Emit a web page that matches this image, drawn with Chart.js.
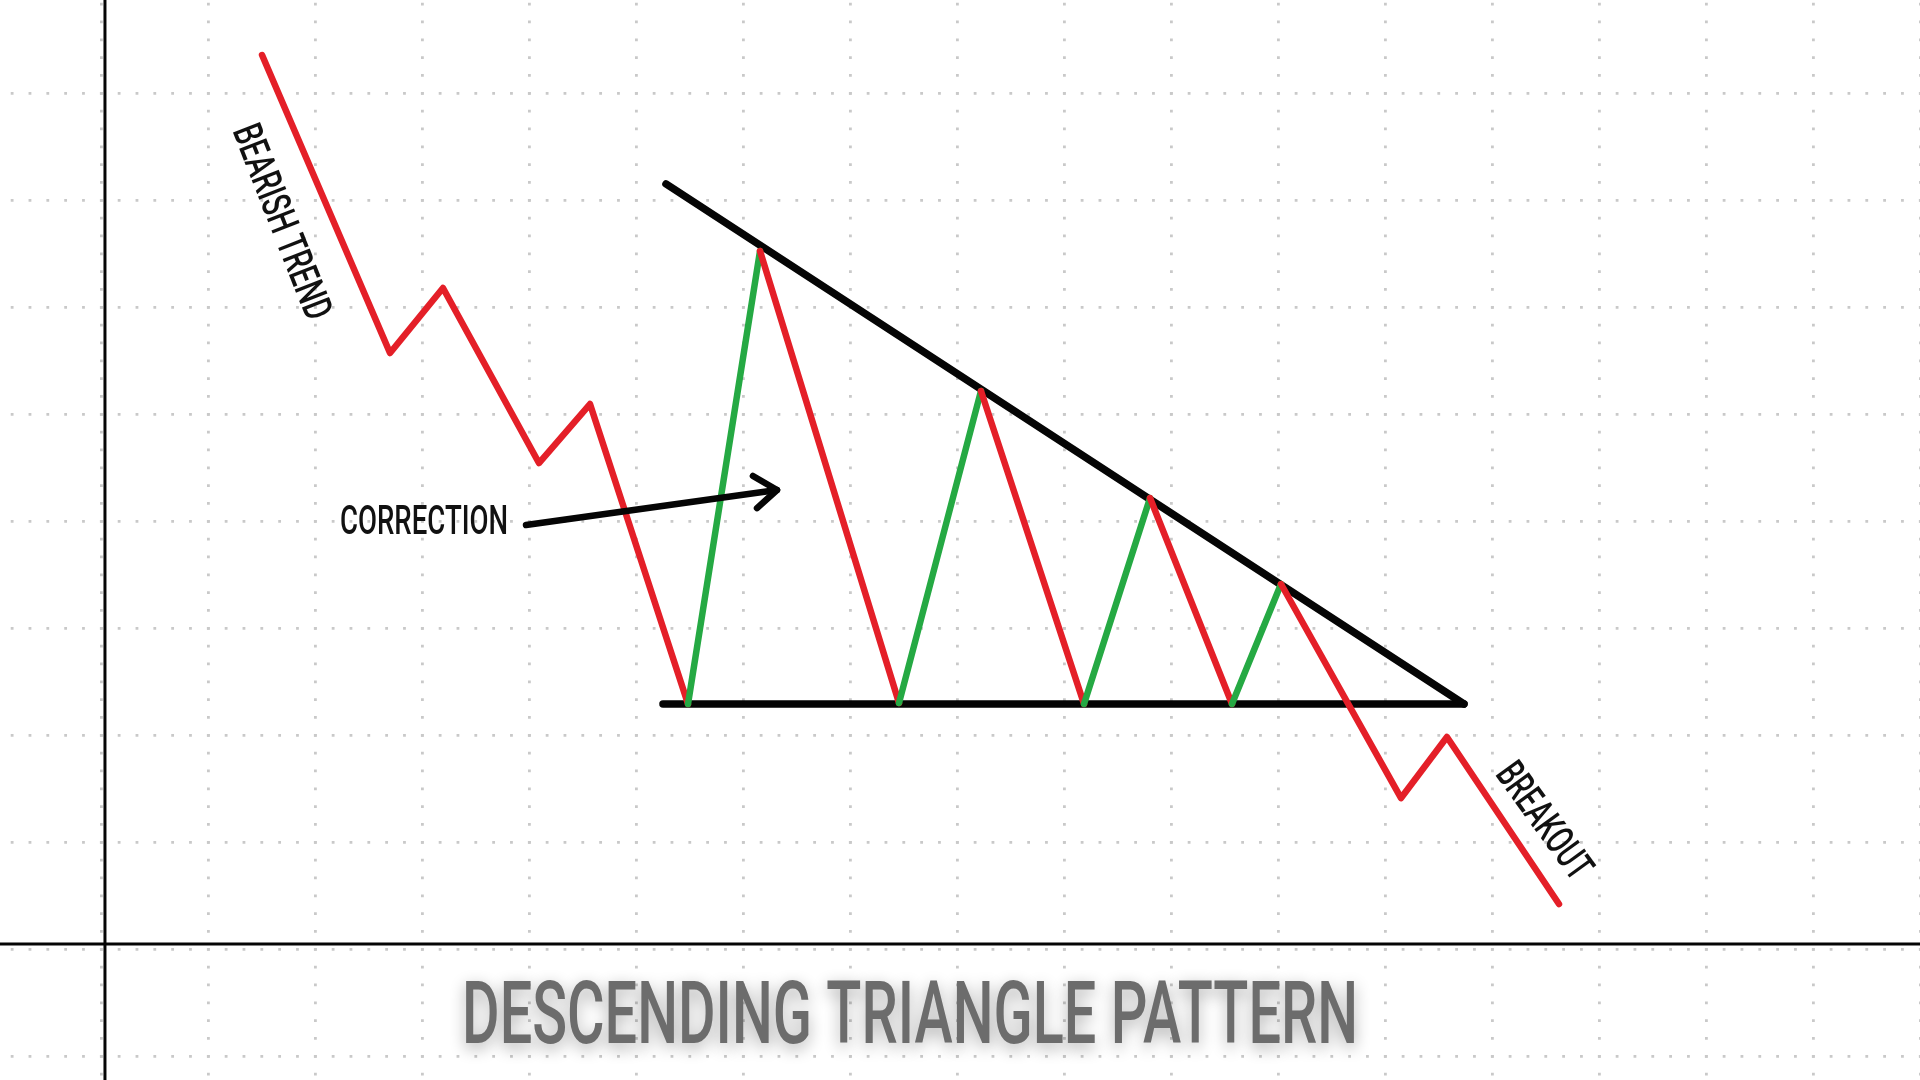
<!DOCTYPE html>
<html>
<head>
<meta charset="utf-8">
<title>Descending Triangle Pattern</title>
<script src="https://cdn.jsdelivr.net/npm/chart.js@4.4.1/dist/chart.umd.min.js"></script>
<style>
  html, body { margin: 0; padding: 0; background: #ffffff; overflow: hidden; }
  #wrap { width: 1920px; height: 1080px; position: relative; }
  canvas { display: block; }
</style>
</head>
<body>
<div id="wrap"><canvas id="chart" width="1920" height="1080"></canvas></div>
<script>
// ---------------- DATA (chart units: 1 grid cell = 10 units) ----------------
// Price path: bearish trend -> triangle swings -> breakout
const priceX = [15.05, 27.01, 31.96, 40.93, 45.70, 54.86, 61.59, 74.58, 82.24, 91.87, 98.04, 105.70, 110.28, 121.50, 125.79, 136.26];
const priceY = [83.55, 55.70, 61.78, 45.42, 50.93, 22.90, 65.23, 22.99, 52.15, 22.90, 42.15, 22.90, 34.11, 14.11, 19.81, 4.21];
// Kind of each leg between consecutive points
const legKind = ['trend', 'trend', 'trend', 'trend', 'trend', 'up', 'down', 'up', 'down', 'up', 'down', 'up', 'breakout', 'breakout', 'breakout'];

// Triangle boundaries
const supportX = [52.52, 127.38];
const supportY = [22.90, 22.90];
const resistanceX = [52.80, 127.38];
const resistanceY = [71.50, 22.90];

// Correction arrow
const arrowX = [39.72, 63.18];
const arrowY = [39.63, 42.90];
const arrowHeadX = [60.93, 63.18, 61.31];
const arrowHeadY = [44.21, 42.90, 41.21];

// Axis ranges and crosshair axes
const xRange = [-9.44, 170.0];
const yRange = [-12.24, 88.69];
const axisX = 0.37;   // vertical axis line position (x value)
const axisY = 0.47;   // horizontal axis line position (y value)
const gridStep = 10;

// Text
const labelText = ['BEARISH TREND', 'CORRECTION', 'BREAKOUT'];
const titleText = 'DESCENDING TRIANGLE PATTERN';

// ---------------- STYLE / LAYOUT ----------------
const RED = '#e41f28';
const GREEN = '#25a943';
const BLACK = '#050505';
const legColor = { trend: RED, down: RED, breakout: RED, up: GREEN };

// label anchors (in chart units) and typographic sizes (px)
const labelLayout = [
  { x: 17.05, y: 68.0, angle: 68.5, cap: 29, width: 206, weight: 500, color: '#111' },
  { x: 30.19, y: 40.14, angle: 0,    cap: 29, width: 168, weight: 500, color: '#111' },
  { x: 135.0, y: 12.06, angle: 54,  cap: 29, width: 134, weight: 500, color: '#111' }
];
const titleLayout = { x: 75.61, y: -5.93, angle: 0, cap: 62, width: 896, weight: 500, color: '#6c6c6c', shadow: true };

const zip = (xs, ys) => xs.map((v, i) => ({ x: v, y: ys[i] }));

const annotate = {
  id: 'annotate',
  beforeDraw(chart) {
    const c = chart.ctx;
    c.save();
    c.fillStyle = '#ffffff';
    c.fillRect(0, 0, chart.width, chart.height);
    c.restore();
  },
  afterDatasetsDraw(chart) {
    const { ctx } = chart;
    const sx = chart.scales.x, sy = chart.scales.y;
    const draw = (text, o) => {
      const px = sx.getPixelForValue(o.x);
      const py = sy.getPixelForValue(o.y);
      const size = o.cap / 0.711;
      ctx.save();
      ctx.translate(px, py);
      ctx.rotate(o.angle * Math.PI / 180);
      ctx.font = o.weight + ' ' + size.toFixed(2) + 'px Roboto, "Open Sans", sans-serif';
      const w = ctx.measureText(text).width;
      ctx.scale(o.width / w, 1);
      ctx.textAlign = 'center';
      ctx.textBaseline = 'alphabetic';
      ctx.fillStyle = o.color;
      if (o.shadow) {
        ctx.shadowColor = 'rgba(0,0,0,0.33)';
        ctx.shadowBlur = 16;
        ctx.shadowOffsetX = 0;
        ctx.shadowOffsetY = 5;
      }
      ctx.fillText(text, 0, o.cap / 2);
      ctx.restore();
    };
    labelText.forEach((t, i) => draw(t, labelLayout[i]));
    draw(titleText, titleLayout);
  }
};

const lineDs = (label, data, color, width, order, extra) => Object.assign({
  label, data, showLine: true, borderColor: color, backgroundColor: color,
  borderWidth: width, pointRadius: 0, pointHoverRadius: 0, fill: false,
  tension: 0, borderCapStyle: 'round', borderJoinStyle: 'round', order
}, extra || {});

const gridCommon = (offset) => ({
  grid: { color: '#c9c9c9', lineWidth: 2.8, drawTicks: false, drawOnChartArea: true },
  border: { display: false, dash: [2.8, 15.033], dashOffset: offset },
  ticks: { display: false, stepSize: gridStep },
  afterBuildTicks: (scale) => {
    scale.ticks = scale.ticks.filter(t => Math.abs(t.value / gridStep - Math.round(t.value / gridStep)) < 1e-6);
  }
});

new Chart(document.getElementById('chart'), {
  type: 'scatter',
  data: {
    datasets: [
      lineDs('Arrow head', zip(arrowHeadX, arrowHeadY), BLACK, 6.5, 0),
      lineDs('Arrow', zip(arrowX, arrowY), BLACK, 6.5, 1),
      lineDs('Price', zip(priceX, priceY), RED, 6.5, 2, {
        segment: { borderColor: (c) => legColor[legKind[c.p0DataIndex]] }
      }),
      lineDs('Resistance', zip(resistanceX, resistanceY), BLACK, 7.5, 3),
      lineDs('Support', zip(supportX, supportY), BLACK, 7.5, 4),
      lineDs('Vertical axis', zip([axisX, axisX], yRange), BLACK, 3, 5, { borderCapStyle: 'butt' }),
      lineDs('Horizontal axis', zip(xRange, [axisY, axisY]), BLACK, 3, 6, { borderCapStyle: 'butt' })
    ]
  },
  options: {
    responsive: false,
    maintainAspectRatio: false,
    devicePixelRatio: 1,
    animation: false,
    layout: { padding: 0 },
    plugins: { legend: { display: false }, tooltip: { enabled: false }, title: { display: false } },
    scales: {
      x: Object.assign({ type: 'linear', min: xRange[0], max: xRange[1] }, gridCommon(15.1)),
      y: Object.assign({ type: 'linear', min: yRange[0], max: yRange[1] }, gridCommon(7.1))
    }
  },
  plugins: [annotate]
});
</script>
</body>
</html>
